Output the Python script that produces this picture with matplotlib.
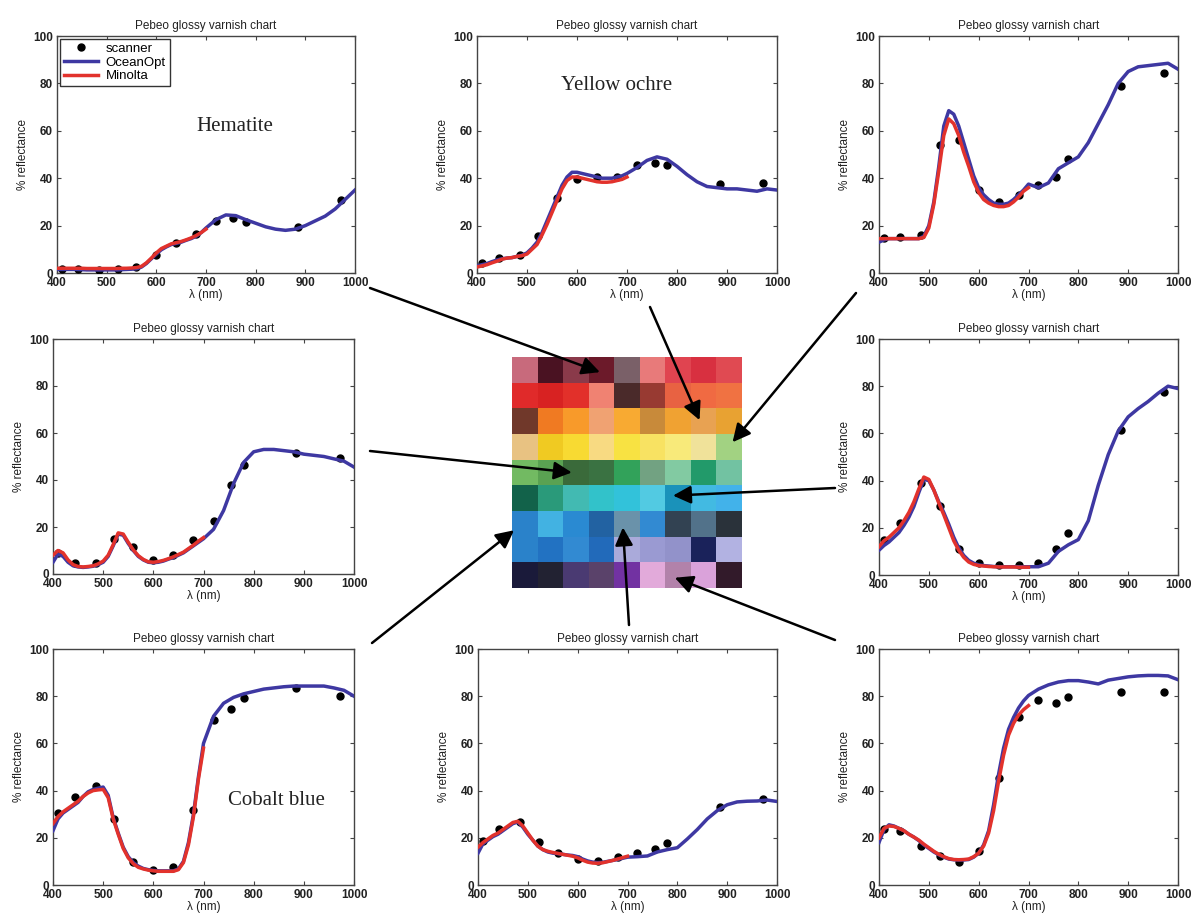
import numpy as np
import matplotlib
matplotlib.use('Agg')
import matplotlib.pyplot as plt
from matplotlib.patches import ConnectionPatch
from matplotlib.colors import to_rgb

plt.rcParams['font.family'] = ['Liberation Sans', 'DejaVu Sans']

# ---------------- data ----------------
wl_fine = [400, 410, 420, 430, 440, 450, 460, 470, 480, 490, 500, 510, 520, 530, 540, 550,
           560, 570, 580, 590, 600, 610, 620, 630, 640, 650, 660, 670, 680, 690, 700]
wl_blue = wl_fine + [720, 740, 760, 780, 800, 820, 840, 860, 880, 900, 920, 940, 960, 980, 1000]
wl_red = wl_fine
scan_wl = [410, 443, 485, 522, 560, 600, 640, 680, 720, 755, 780, 885, 972]

# Panel 1: Hematite
hem_blue = [1.5, 1.5, 1.5, 1.5, 1.5, 1.4, 1.3, 1.3, 1.3, 1.3, 1.3, 1.3, 1.3, 1.4, 1.5, 1.6, 1.8, 2.5, 4, 6, 8,
            9.8, 11, 12, 12.5, 13, 13.8, 14.5, 15.5, 17, 19,
            22.5, 24.5, 24.2, 22.5, 21, 19.5, 18.5, 18, 18.5, 20, 22, 24, 27, 31, 35]
hem_red = [2, 2, 2, 2, 2, 2, 1.9, 1.9, 1.9, 1.9, 1.9, 1.9, 1.9, 2, 2, 2.1, 2.3, 2.8, 4.3, 6.3, 8.5,
           10.3, 11.3, 12.3, 12.8, 13.3, 14, 14.8, 15.8, 17, 18.5]
hem_scan = [1.7, 1.7, 1.4, 1.7, 2.5, 7.5, 12.5, 16.5, 22, 23, 21.5, 19.5, 31]

# Panel 2: Yellow ochre
och_blue = [3, 3.5, 4, 4.8, 5.5, 6, 6.3, 6.5, 7, 7.5, 8.5, 10.5, 13, 17, 22, 27, 32, 37, 40.5, 42.5, 42.5,
            42, 41.5, 41, 40.5, 40, 40, 40, 40.5, 41, 42,
            44.5, 47.5, 49, 48, 45, 41.5, 38.5, 36.5, 36, 35.5, 35.5, 35, 34.5, 35.5, 35]
och_red = [2.5, 3, 3.5, 4.3, 5, 5.8, 6.3, 6.5, 7, 7.3, 8, 10, 12, 16, 20.5, 25.5, 30.5, 35.5, 39, 40.5, 40.5,
           40, 39.5, 39, 38.5, 38.3, 38.3, 38.5, 39, 39.5, 40.5]
och_scan = [4.2, 6.2, 7.4, 15.7, 31.7, 39.6, 40.6, 40.6, 45.4, 46.6, 45.6, 37.5, 37.8]

# Panel 3: light green
lgr_blue = [13, 14, 14.5, 14.5, 14.5, 14.5, 14.5, 14.5, 14.5, 15.5, 20, 30, 45, 62, 68.5, 67, 62, 55, 48, 41, 36,
            33, 31, 29.5, 29, 29, 29.5, 31, 33, 35, 37.5,
            36, 38, 44, 46.5, 49, 55, 63, 71, 80, 85, 87, 87.5, 88, 88.5, 86]
lgr_red = [14.5, 14.5, 14.5, 14.5, 14.5, 14.5, 14.5, 14.5, 14.5, 15, 19, 29, 43, 58, 65, 63, 58, 51, 45, 38.5, 34,
           31, 29.5, 28.5, 28, 28, 28.5, 30, 32, 34.5, 36]
lgr_scan = [14.6, 15.2, 16, 54.2, 56, 35, 29.9, 33, 37, 40.7, 48, 78.7, 84.3]

# Panel 4: dark green
dgr_blue = [5, 8.5, 7.5, 5, 3.5, 3, 2.8, 3, 3.3, 4, 5, 7.5, 12, 17, 16.5, 13, 10, 7.5, 6, 5, 4.8,
            5, 5.5, 6.3, 7, 8, 9, 10.5, 12, 13.5, 15,
            19, 27, 38.5, 47.5, 52, 53, 53, 52.5, 52, 51, 50.5, 50, 49, 48, 45.5]
dgr_red = [8, 10, 9, 6, 4, 3.2, 3, 3.2, 3.5, 4.3, 5.5, 8, 12.5, 17.5, 17, 13.5, 10.3, 7.8, 6.2, 5.2, 5,
           5.3, 5.8, 6.5, 7.3, 8.3, 9.3, 10.8, 12.3, 14, 15.5]
dgr_scan = [9, 4.5, 4.5, 15, 11.5, 6, 8, 14.5, 22.5, 38, 46.5, 51.5, 49.5]

# Panel 5: turquoise
tur_blue = [10.5, 12.5, 14, 16, 18, 21, 24.5, 29, 35, 40.5, 40, 36, 31, 26.5, 21.5, 16, 11.5, 8.3, 6.2, 5, 4.3,
            4, 3.8, 3.6, 3.5, 3.5, 3.5, 3.5, 3.5, 3.5, 3.5,
            3.5, 5, 10, 12.8, 15, 23, 38, 51, 61, 67, 70.5, 73.5, 77, 80, 79]
tur_red = [12, 14.5, 16, 18, 20, 23, 26.5, 31, 36.5, 41.5, 40.5, 36, 30.5, 25.5, 20, 14.5, 10.5, 7.5, 5.5, 4.5, 4,
           3.8, 3.6, 3.5, 3.4, 3.4, 3.4, 3.4, 3.3, 3.3, 3.3]
tur_scan = [14.8, 22.2, 39.1, 29.2, 10.9, 4.9, 4.2, 4.2, 4.9, 10.9, 17.7, 61.4, 77.7]

# Panel 6: Cobalt blue
cob_blue = [23, 28, 30.5, 32, 33.5, 35, 37.5, 39.5, 40.5, 41, 41.5, 38, 28.5, 22, 16, 12, 9.5, 8, 7, 6.5, 6.2,
            6, 6, 6, 6, 6.8, 10, 18, 30, 46, 60,
            71.5, 77, 79.5, 81, 82, 83, 83.5, 84, 84.3, 84.3, 84.3, 84.3, 83.5, 82.5, 80]
cob_red = [26, 29, 31, 32.5, 34, 35.5, 37.5, 39, 40, 40.3, 40.5, 37, 28, 21.5, 15.5, 11.5, 9, 7.5, 6.8, 6.3, 6,
           5.8, 5.8, 5.8, 5.8, 6.5, 9.5, 17, 29, 45, 58]
cob_scan = [30.7, 37.1, 42, 28, 9.6, 6.4, 7.5, 31.8, 70, 74.5, 79.2, 83.3, 79.9]

# Panel 7: grey blue
gbl_blue = [13.5, 17.5, 19, 20.5, 21.5, 23, 24.5, 26, 26.7, 24.5, 21.5, 19, 16.5, 15, 14, 13.5, 13.3, 13, 12.7, 12.5, 12,
            11, 10.2, 9.7, 9.5, 9.6, 10, 10.4, 10.8, 11.3, 11.8,
            12, 12.3, 14, 15, 15.8, 19.5, 23.5, 28, 31.5, 34, 35.2, 35.5, 35.6, 36, 35.4]
gbl_red = [16, 18, 19.5, 21, 22, 23.5, 25, 26.5, 27, 25, 22, 19, 16.5, 15, 14.3, 13.8, 13.4, 13, 12.6, 12.2, 11.5,
           10.5, 9.7, 9.3, 9.2, 9.4, 9.9, 10.4, 11, 11.6, 12.2]
gbl_scan = [18.8, 23.8, 26.9, 18.4, 13.4, 11, 10, 11.9, 13.4, 15.1, 17.7, 33, 36.6]

# Panel 8: mauve
mau_blue = [18, 23.5, 25.5, 25, 24, 23, 21.5, 20.3, 18.8, 17, 15.5, 14, 12.8, 11.8, 11, 10.7, 10.6, 10.6, 10.8, 11.8, 13.5,
            17, 23, 34, 47, 58, 66, 71, 75, 78, 80.3,
            83, 84.8, 86, 86.6, 86.6, 86, 85.2, 86.8, 87.5, 88.2, 88.6, 88.8, 88.8, 88.6, 87]
mau_red = [20, 24, 25, 24.8, 24, 23, 21.5, 20.3, 19, 17.3, 15.8, 14.3, 13, 12, 11.2, 10.8, 10.7, 10.8, 11, 12, 13.5,
           16.5, 22, 31.5, 44, 55, 63.5, 68.5, 72, 74.3, 76]
mau_scan = [23.6, 23, 16.5, 12.3, 9.9, 14.5, 45.3, 71, 78.5, 77, 79.6, 81.8, 81.6]

# Colour chart (9 x 9 patches)
chart_colors = [
    ['#c86a7c', '#4a1222', '#8a3a4a', '#6c1a2a', '#7a6068', '#e87a7a', '#e04450', '#d83040', '#e04a52'],
    ['#e02a2a', '#d82222', '#e2302a', '#f08272', '#4a2a2a', '#983a32', '#e86242', '#f06a42', '#f07242'],
    ['#70382a', '#f07a22', '#f89a2a', '#f0a272', '#f8aa32', '#c88a3a', '#f0a232', '#e8a252', '#e8a232'],
    ['#e8c282', '#f0ca22', '#f8da32', '#f8da82', '#f8e242', '#f8e262', '#f8ea7a', '#f0e29a', '#a2d282'],
    ['#72ba62', '#5aa252', '#3a6a3a', '#3a7242', '#32a25a', '#72a282', '#82caa2', '#229a6a', '#72c2a2'],
    ['#12624a', '#2a9a7a', '#42bab2', '#32c2ca', '#32c2da', '#52cae2', '#1a92ba', '#42bae2', '#42b2ea'],
    ['#2a82ca', '#42b2e2', '#2a8ad2', '#2262a2', '#6a92aa', '#328ad2', '#324252', '#52728a', '#2a323a'],
    ['#2a82ca', '#2272c2', '#328ad2', '#226aba', '#aaaada', '#9a9ad2', '#9292ca', '#1a225a', '#b2b2e2'],
    ['#1a1a3a', '#222232', '#4a3a72', '#5a426a', '#7232a2', '#e2aada', '#b282aa', '#daa2da', '#321a2a'],
]

# arrows: tail (figure pixels) -> head (chart cell coords: column, row)
arrow_tails = [(370, 288), (650, 307), (856, 293), (370, 451), (835, 488), (372, 643), (629, 625), (835, 640)]
arrow_heads = [(3.44, 0.59), (7.34, 2.46), (8.63, 3.32), (2.34, 4.5), (6.3, 5.4), (0.08, 6.75), (4.34, 6.64), (6.37, 8.6)]

# ---------------- figure ----------------
W, H = 1196, 915
fig = plt.figure(figsize=(W / 100, H / 100), dpi=100)
fig.patch.set_facecolor('white')

BLUE = '#3e38a2'
RED = '#e2322c'


def rect(l, t, r, b):
    return [l / W, 1 - b / H, (r - l) / W, (b - t) / H]


def panel(pos, blue, red, scan, label=None, label_xy=None, legend=False):
    ax = fig.add_axes(rect(*pos))
    ax.plot(scan_wl, scan, 'o', color='black', ms=5, label='scanner', zorder=3)
    ax.plot(wl_blue, blue, color=BLUE, lw=2.5, label='OceanOpt', zorder=4)
    ax.plot(wl_red, red, color=RED, lw=2.5, label='Minolta', zorder=5)
    ax.set_xlim(400, 1000)
    ax.set_ylim(0, 100)
    ax.set_xticks([400, 500, 600, 700, 800, 900, 1000])
    ax.set_yticks([0, 20, 40, 60, 80, 100])
    ax.tick_params(direction='in', length=3, top=True, right=True, labelsize=8.5, pad=3,
                   color='#444444', labelcolor='#222222')
    for lab in ax.get_xticklabels() + ax.get_yticklabels():
        lab.set_fontweight('bold')
    for s in ax.spines.values():
        s.set_color('#444444')
        s.set_linewidth(1.0)
    ax.set_title('Pebeo glossy varnish chart', fontsize=8.5, pad=5, color='#222222')
    ax.set_xlabel('λ (nm)', fontsize=8.5, labelpad=0, color='#222222')
    ax.set_ylabel('% reflectance', fontsize=8.5, labelpad=3, color='#222222')
    if label:
        ax.text(label_xy[0], label_xy[1], label, family=['Liberation Serif', 'DejaVu Serif'],
                fontsize=15, ha='center', va='center', color='#222222')
    if legend:
        leg = ax.legend(loc='upper left', fontsize=9.5, frameon=True, fancybox=False,
                        edgecolor='#333333', borderaxespad=0.2, handlelength=2.6, borderpad=0.3,
                        labelspacing=0.12, handletextpad=0.6, framealpha=1)
        leg.get_frame().set_linewidth(1.0)
    return ax


panel((57, 36, 355, 273), hem_blue, hem_red, hem_scan, 'Hematite', (759, 62), legend=True)
panel((477, 36, 777, 273), och_blue, och_red, och_scan, 'Yellow ochre', (679, 79))
panel((879, 36, 1178, 273), lgr_blue, lgr_red, lgr_scan)
panel((53, 339, 354, 574), dgr_blue, dgr_red, dgr_scan)
panel((879, 339, 1178, 575), tur_blue, tur_red, tur_scan)
panel((53, 649, 354, 885), cob_blue, cob_red, cob_scan, 'Cobalt blue', (845, 36))
panel((478, 649, 777, 885), gbl_blue, gbl_red, gbl_scan)
panel((879, 649, 1178, 885), mau_blue, mau_red, mau_scan)

# colour chart
gax = fig.add_axes(rect(512, 357, 742, 588))
img = np.array([[to_rgb(c) for c in row] for row in chart_colors])
gax.imshow(img, extent=(0, 9, 9, 0), aspect='auto', interpolation='nearest')
gax.axis('off')

for (tx, ty), (hc, hr) in zip(arrow_tails, arrow_heads):
    con = ConnectionPatch(xyA=(tx / W, 1 - ty / H), coordsA=fig.transFigure,
                          xyB=(hc, hr), coordsB=gax.transData,
                          arrowstyle='-|>,head_length=0.6,head_width=0.3', mutation_scale=18,
                          lw=1.8, color='black', zorder=10)
    fig.add_artist(con)

fig.savefig('out.png', dpi=100, facecolor='white')
